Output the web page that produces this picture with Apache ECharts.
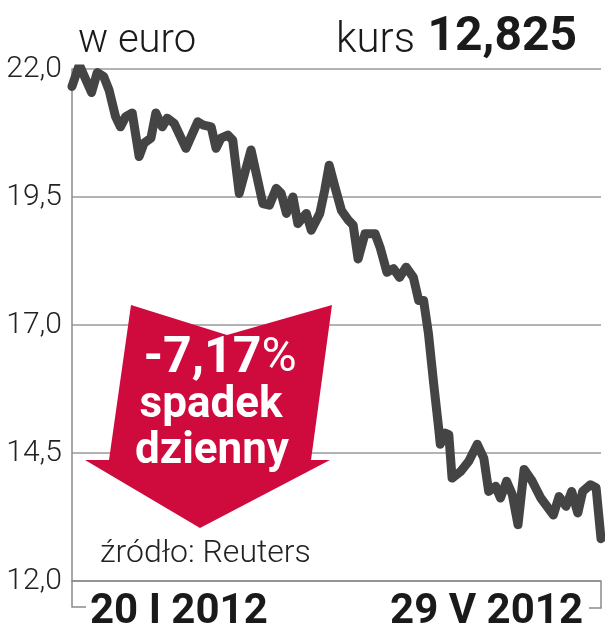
<!DOCTYPE html>
<html>
<head>
<meta charset="utf-8">
<script src="https://cdn.jsdelivr.net/npm/echarts@6/dist/echarts.min.js"></script>
<style>
html,body{margin:0;padding:0;background:#fff;}
#c{width:605px;height:640px;}
</style>
</head>
<body>
<div id="c"></div>
<script>
// days since 20 I 2012 (x) and share price in euro (y)
var days = [0,1.8,4.8,6.2,7.8,9.1,10.7,11.9,13.2,14.8,16.5,17.7,19.4,20.6,22.2,23.4,25.1,28.0,30.9,32.1,34.2,35.4,36.6,38.3,39.5,41.1,44.0,46.9,48.5,50.2,51.4,52.7,54.3,55.5,57.6,58.8,60.9,62.1,63.2,64.6,66.2,67.9,69.1,70.3,72.0,74.5,75.7,77.4,79.0,80.5,82.1,83.9,85.2,86.4,87.6,88.9,90.1,90.5,91.7,92.6,93.4,95.5,97.5,99.6,101.2,102.4,104.1,105.3,106.8,108.2,109.6,111.1,113.1,115.2,118.3,119.7,121.4,122.8,124.3,125.5,127.4,128.8,130];
var prices = [21.66,22.08,21.54,21.93,21.85,21.59,21.07,20.87,21.07,21.14,20.29,20.55,20.65,21.14,20.87,21.04,20.94,20.45,20.97,20.91,20.87,20.45,20.65,20.71,20.61,19.57,20.42,19.37,19.34,19.67,19.57,19.18,19.50,18.98,19.18,18.85,19.18,19.63,20.12,19.70,19.24,19.05,18.95,18.29,18.78,18.78,18.52,18.03,18.10,17.93,18.13,17.93,17.48,17.48,16.83,15.84,14.99,14.67,14.89,14.86,14.01,14.14,14.34,14.67,14.40,13.75,13.85,13.62,13.95,13.69,13.10,14.18,13.95,13.62,13.29,13.65,13.46,13.75,13.33,13.75,13.88,13.82,12.825];
var xTickLabels = ['20 I 2012', '29 V 2012'];
var yTicks = [12.0, 14.5, 17.0, 19.5, 22.0];
var unitLabel = 'w euro';
var kursLabel = 'kurs';
var kursValue = '12,825';
var changeLabel = '-7,17';
var changeLine2 = 'spadek';
var changeLine3 = 'dzienny';
var sourceLabel = 'źródło: Reuters';

var seriesData = days.map(function (d, i) { return [d, prices[i]]; });

var chart = echarts.init(document.getElementById('c'), null, {renderer: 'canvas'});
var FONT = 'Roboto, "Liberation Sans", sans-serif';
var gridLeft = 72, gridTop = 69, gridRight = 4, gridBottom = 59;
var bottomY = 640 - gridBottom;
var rightX = 605 - gridRight;

chart.setOption({
  animation: false,
  backgroundColor: '#ffffff',
  grid: {left: gridLeft, right: gridRight, top: gridTop, bottom: gridBottom, containLabel: false},
  xAxis: {
    type: 'value',
    min: days[0],
    max: days[days.length - 1],
    interval: days[days.length - 1] - days[0],
    axisLine: {show: true, lineStyle: {color: '#8a8a8a', width: 1.5}},
    axisTick: {show: false},
    splitLine: {show: false},
    axisLabel: {
      show: true,
      margin: 10,
      alignMinLabel: 'left',
      alignMaxLabel: 'right',
      formatter: function (v) {
        if (v === days[0]) return '{l|' + xTickLabels[0] + '}';
        return '{r|' + xTickLabels[1] + '}';
      },
      rich: {
        l: {fontFamily: FONT, fontWeight: 'bold', fontSize: 42, color: '#1a1a1a', padding: [0, 0, 0, 18]},
        r: {fontFamily: FONT, fontWeight: 'bold', fontSize: 42, color: '#1a1a1a', padding: [0, 18, 0, 0]}
      }
    }
  },
  yAxis: {
    type: 'value',
    min: yTicks[0],
    max: yTicks[yTicks.length - 1],
    interval: yTicks[1] - yTicks[0],
    axisLine: {show: true, lineStyle: {color: '#8a8a8a', width: 1.5}},
    axisTick: {show: false},
    splitLine: {show: true, lineStyle: {color: '#9a9a9a', width: 1.5}},
    axisLabel: {
      margin: 10,
      fontFamily: FONT,
      fontWeight: 300,
      fontSize: 30,
      color: '#222',
      formatter: function (v) { return v.toFixed(1).replace('.', ','); }
    }
  },
  series: [{
    type: 'line',
    data: seriesData,
    showSymbol: false,
    symbol: 'none',
    lineStyle: {color: '#444444', width: 9, join: 'round', cap: 'round'},
    z: 3
  }],
  graphic: [
    {type: 'text', left: 78, top: 22, style: {text: unitLabel, fontFamily: FONT, fontWeight: 300, fontSize: 40, fill: '#1a1a1a'}},
    {type: 'text', right: 190, top: 20, style: {text: kursLabel, fontFamily: FONT, fontWeight: 300, fontSize: 42, fill: '#1a1a1a'}},
    {type: 'text', right: 28, top: 14, style: {text: kursValue, fontFamily: FONT, fontWeight: 'bold', fontSize: 48, fill: '#1a1a1a'}},
    {type: 'polygon', z: 50, shape: {points: [[131,305],[227,335],[332,305],[311,460],[330,460],[200,528],[85,460],[109,460]]}, style: {fill: '#cf0a3c'}},
    {type: 'text', z: 60, x: 220, y: 384, style: {text: '{a|' + changeLabel + '}{b|%}', textAlign: 'center', textVerticalAlign: 'bottom',
      rich: {a: {fontFamily: FONT, fontWeight: 'bold', fontSize: 50, fill: '#fff'}, b: {fontFamily: FONT, fontWeight: 400, fontSize: 48, fill: '#fff'}}}},
    {type: 'text', z: 60, x: 211, y: 428, style: {text: changeLine2, textAlign: 'center', textVerticalAlign: 'bottom', fontFamily: FONT, fontWeight: 'bold', fontSize: 44, fill: '#fff'}},
    {type: 'text', z: 60, x: 212, y: 474, style: {text: changeLine3, textAlign: 'center', textVerticalAlign: 'bottom', fontFamily: FONT, fontWeight: 'bold', fontSize: 44, fill: '#fff'}},
    {type: 'text', left: 100, top: 538, style: {text: sourceLabel, fontFamily: FONT, fontWeight: 300, fontSize: 32, fill: '#222'}},
    {type: 'polyline', shape: {points: [[gridLeft, bottomY], [gridLeft, 607], [86, 607]]}, style: {stroke: '#8a8a8a', lineWidth: 1.5, fill: null}},
    {type: 'polyline', shape: {points: [[rightX, bottomY], [rightX, 608], [589, 608]]}, style: {stroke: '#8a8a8a', lineWidth: 1.5, fill: null}}
  ]
});
</script>
</body>
</html>
